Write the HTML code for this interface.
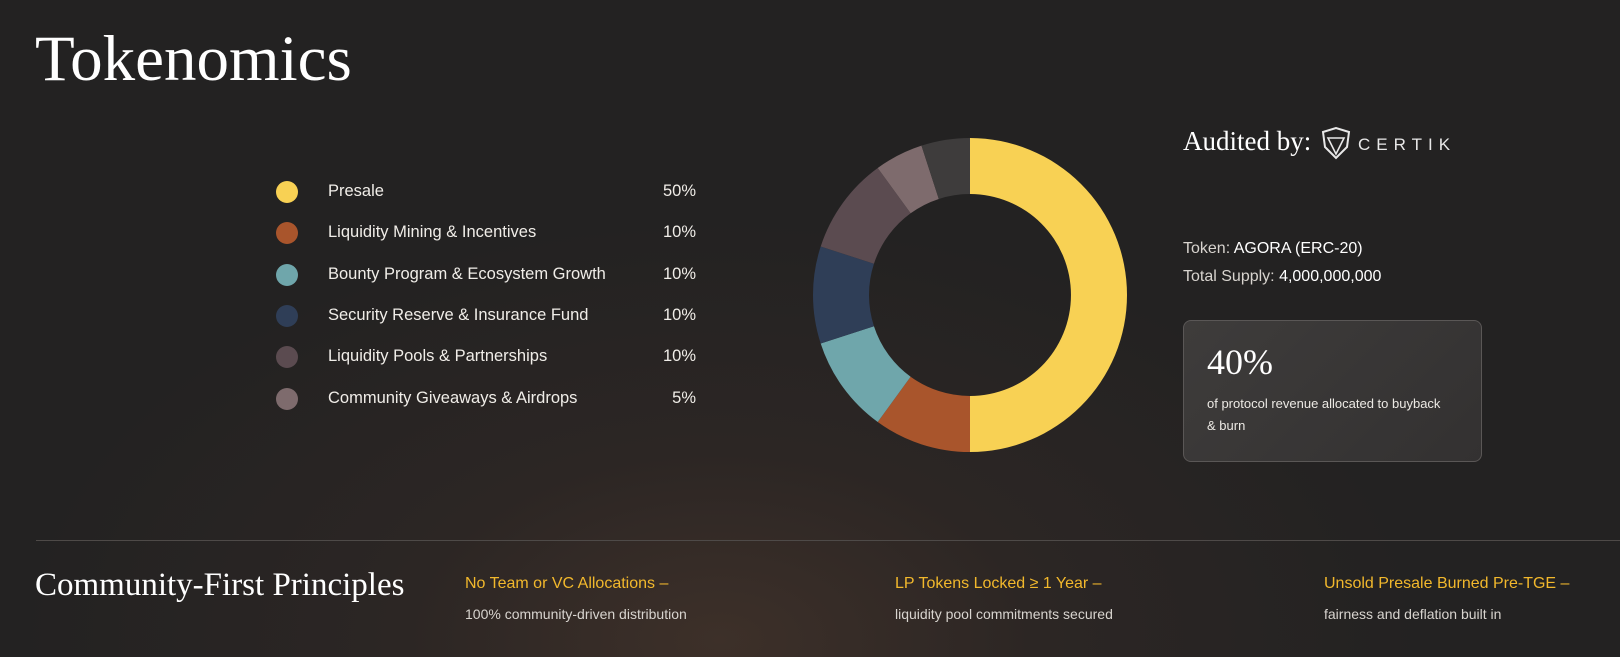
<!DOCTYPE html>
<html><head><meta charset="utf-8">
<style>
html,body{margin:0;padding:0}
body{width:1620px;height:657px;overflow:hidden;position:relative;font-family:"Liberation Sans",sans-serif;color:#f2efe9;
background:radial-gradient(ellipse 700px 420px at 720px 640px,#3d3029 0%,#2c2624 45%,#232222 100%),#232222;}
.serif{font-family:"Liberation Serif",serif}
.abs{position:absolute;margin:0}
.leg-dot{position:absolute;width:22px;height:22px;border-radius:50%}
.leg-label{position:absolute;font-size:16.5px;color:#f0ede8}
.leg-pct{position:absolute;font-size:16.5px;text-align:right;width:60px;color:#f0ede8}
.col-h{position:absolute;font-size:16px;color:#f2b82c}
.col-s{position:absolute;font-size:14px;color:#d8d4cf}
</style></head><body>
<h1 class="abs serif" style="left:35px;top:22px;font-size:65px;font-weight:normal;color:#fff">Tokenomics</h1>

<div id="legend"></div>

<svg id="donut" class="abs" style="left:800px;top:125px" width="340" height="340"></svg>

<div class="abs serif" style="left:1183px;top:126px;font-size:27px;color:#fff">Audited by:</div>
<svg class="abs" style="left:1320px;top:127px" width="130" height="34">
<path d="M3 5 L16 1 L29 5 L27 20 L16 31 L5 20 Z" fill="none" stroke="#e8e8e8" stroke-width="2"/>
<path d="M8 11 L16 27 L24 11 Z" fill="none" stroke="#e8e8e8" stroke-width="1.6"/>
<text x="38" y="23" font-family="Liberation Sans,sans-serif" font-size="17" fill="#e8e8e8" letter-spacing="6">CERTIK</text>
</svg>
<div class="abs" style="left:1183px;top:235px;font-size:16px;line-height:28px;color:#d8d4cf">
<div>Token: <span style="color:#fff">AGORA (ERC-20)</span></div>
<div>Total Supply: <span style="color:#fff">4,000,000,000</span></div>
</div>
<div class="abs" style="left:1183px;top:320px;width:297px;height:140px;border:1px solid #5a5756;border-radius:8px;background:linear-gradient(135deg,#3e3c3b,#333131)">
<div class="serif" style="position:absolute;left:23px;top:20px;font-size:36px;color:#fff">40%</div>
<div style="position:absolute;left:23px;top:72px;width:235px;font-size:13px;line-height:22px;color:#ece9e4">of protocol revenue allocated to buyback &amp; burn</div>
</div>

<div class="abs" style="left:36px;top:540px;width:1584px;height:1px;background:#4e4a48"></div>
<div class="abs serif" style="left:35px;top:567px;font-size:33px;color:#fff">Community-First Principles</div>
<div class="col-h" style="left:465px;top:575px">No Team or VC Allocations –</div>
<div class="col-s" style="left:465px;top:606px">100% community-driven distribution</div>
<div class="col-h" style="left:895px;top:575px">LP Tokens Locked ≥ 1 Year –</div>
<div class="col-s" style="left:895px;top:606px">liquidity pool commitments secured</div>
<div class="col-h" style="left:1324px;top:575px">Unsold Presale Burned Pre-TGE –</div>
<div class="col-s" style="left:1324px;top:606px">fairness and deflation built in</div>

<script>
const categories=["Presale","Liquidity Mining & Incentives","Bounty Program & Ecosystem Growth","Security Reserve & Insurance Fund","Liquidity Pools & Partnerships","Community Giveaways & Airdrops","Other"];
const values=[50,10,10,10,10,5,5];
const colors=["#f8d154","#a9552c","#6fa6ab","#2f3e57","#5b4b50","#7e6b6d","#3e3c3c"];
const legendCount=6;

const leg=document.getElementById('legend');
for(let i=0;i<legendCount;i++){
  const y=181+i*41.3;
  const d=document.createElement('div');d.className='leg-dot';
  
  
  d.style.left='276px';d.style.top=(y)+'px';d.style.background=colors[i];leg.appendChild(d);
  const l=document.createElement('div');l.className='leg-label';
  
  
  l.style.left='328px';l.style.top=(y+1)+'px';l.textContent=categories[i];leg.appendChild(l);
  const p=document.createElement('div');p.className='leg-pct';
  
  
  p.style.left='636px';p.style.top=(y+1)+'px';p.textContent=values[i]+'%';leg.appendChild(p);
}

const svg=document.getElementById('donut');
const cx=170,cy=170,R=157,r=101;
const total=values.reduce((a,b)=>a+b,0);
function pt(rad,a){return [cx+rad*Math.sin(a),cy-rad*Math.cos(a)];}
let acc=0;
values.forEach((v,i)=>{
  const a0=acc/total*2*Math.PI;acc+=v;const a1=acc/total*2*Math.PI;
  const lg=(a1-a0)>Math.PI?1:0;
  const [x0,y0]=pt(R,a0),[x1,y1]=pt(R,a1),[x2,y2]=pt(r,a1),[x3,y3]=pt(r,a0);
  const p=document.createElementNS('http://www.w3.org/2000/svg','path');
  p.setAttribute('d',`M${x0} ${y0} A${R} ${R} 0 ${lg} 1 ${x1} ${y1} L${x2} ${y2} A${r} ${r} 0 ${lg} 0 ${x3} ${y3} Z`);
  p.setAttribute('fill',colors[i]);
  
  
  svg.appendChild(p);
});
</script>
</body></html>
